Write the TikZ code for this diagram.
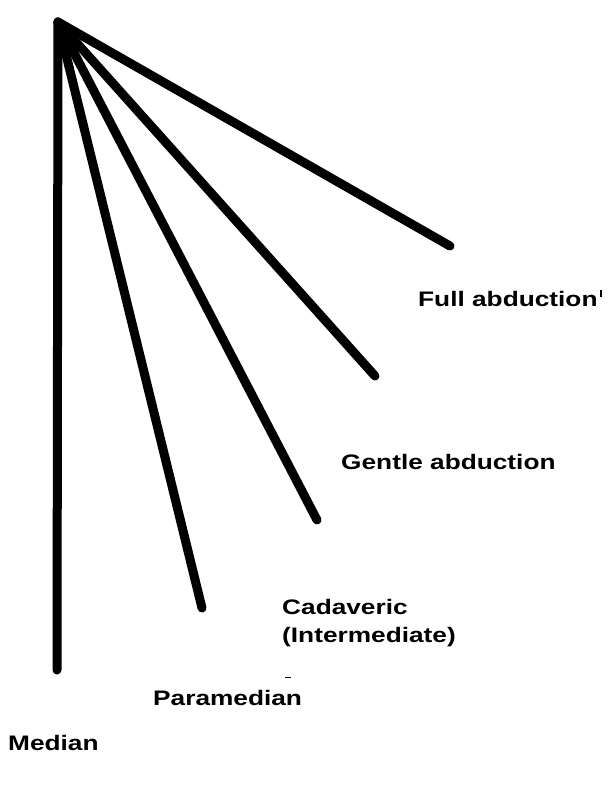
\documentclass[tikz,border=0pt]{standalone}
\usepackage{fontspec}
\newfontfamily\labfont[FakeStretch=1.25]{Liberation Sans}
\begin{document}
\begin{tikzpicture}[x=1pt,y=-1pt,
  ray/.style={line width=9pt,line cap=round,black},
  lab/.style={anchor=base west,inner sep=0pt,font=\labfont\bfseries\fontsize{21}{28}\selectfont,align=left}]
\useasboundingbox (0,0) rectangle (609,787);
\coordinate (apex) at (58,22);
\coordinate (emed) at (57,670);
\coordinate (epara) at (202,608);
\coordinate (ecad) at (317,520);
\coordinate (egen) at (375,376);
\coordinate (efull) at (450,246);
\draw[ray] (apex) -- (emed);
\draw[ray] (apex) -- (epara);
\draw[ray] (apex) -- (ecad);
\draw[ray] (apex) -- (egen);
\draw[ray] (apex) -- (efull);
\node[lab] (lfull) at (418,306) {Full abduction};
\node[lab] (lgen) at (341,469) {Gentle abduction};
\node[lab] (lcad) at (282,642) {Cadaveric\\(Intermediate)};
\node[lab] (lpara) at (153,705) {Paramedian};
\node[lab] (lmed) at (8,750) {Median};
\coordinate (tk1) at (601,290);
\coordinate (tk2) at (601,297);
\draw[line width=2pt] (tk1) -- (tk2);
\coordinate (d1) at (285,677);
\coordinate (d2) at (291,677);
\draw[line width=1pt] (d1) -- (d2);
\end{tikzpicture}
\end{document}
